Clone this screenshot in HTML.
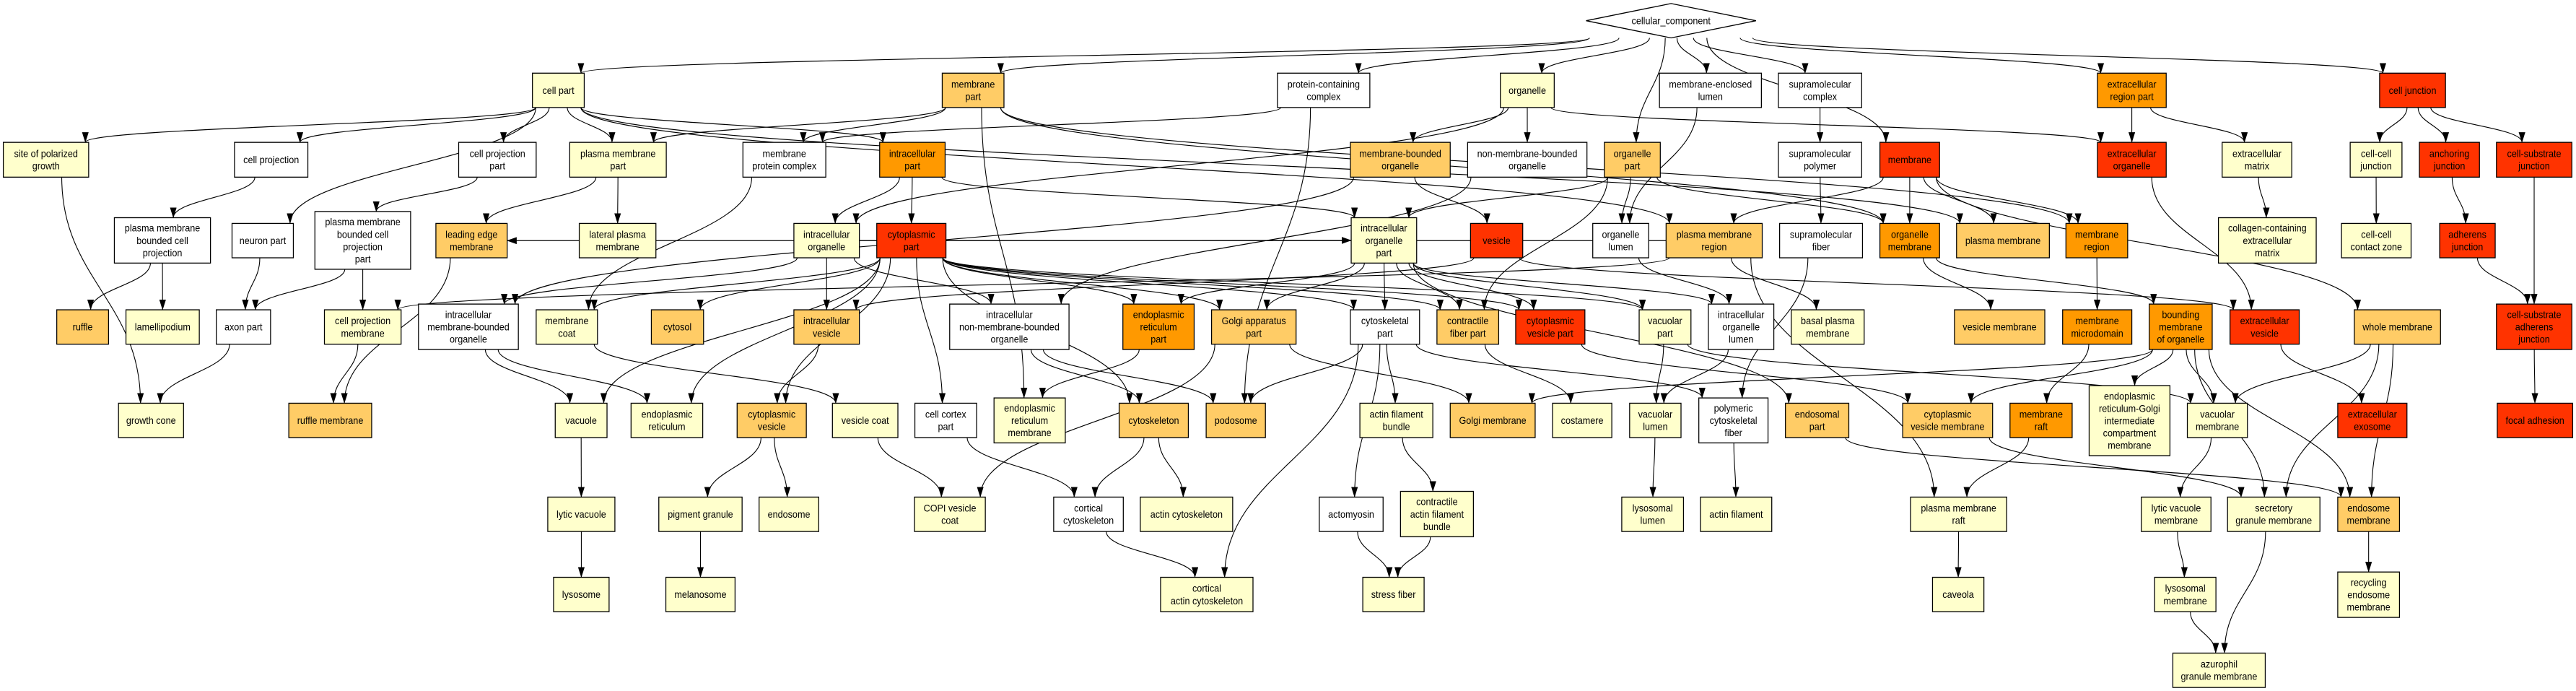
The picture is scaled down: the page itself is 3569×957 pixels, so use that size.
<!DOCTYPE html>
<html><head><meta charset="utf-8">
<style>
html,body{margin:0;padding:0;background:#fff;}
svg{display:block;}
text{font-family:"Liberation Sans",Arial,sans-serif;font-size:22px;text-anchor:middle;fill:#000;}
rect,polygon{stroke:#000;stroke-width:2.2;}
.Y rect{fill:#FFFFCC}.O rect{fill:#FFCC66}.R rect{fill:#FF9900}.D rect{fill:#FF3300}.W rect{fill:#FFFFFF}
#edges path{stroke:#000;stroke-width:1.9;fill:none}
</style></head>
<body>
<svg id="s" width="3569" height="957" viewBox="0 0 6217 1568" preserveAspectRatio="none" xmlns="http://www.w3.org/2000/svg">
<defs><marker id="ah" markerUnits="userSpaceOnUse" markerWidth="24" markerHeight="16" refX="23" refY="8" orient="auto"><path d="M0,0 L24,8 L0,16 z" fill="#000"/></marker></defs>
<g id="edges"></g>
<g id="nodes">
<g id="cc" class="W"><polygon points="3828,47 4033,8 4238,47 4033,86" fill="#fff"/><rect x="3900" y="20" width="266" height="54" style="display:none"/><text><tspan>cellular_component</tspan></text></g>

<g id="cellpart" class="Y"><rect x="1285" y="166" width="125" height="78"/><text><tspan>cell part</tspan></text></g>
<g id="spg" class="Y"><rect x="8" y="323" width="206" height="79"/><text><tspan>site of polarized</tspan><tspan>growth</tspan></text></g>
<g id="cproj" class="W"><rect x="566" y="323" width="177" height="79"/><text><tspan>cell projection</tspan></text></g>
<g id="cprojpart" class="W"><rect x="1107" y="323" width="187" height="79"/><text><tspan>cell projection</tspan><tspan>part</tspan></text></g>
<g id="pmpart" class="Y"><rect x="1375" y="323" width="233" height="79"/><text><tspan>plasma membrane</tspan><tspan>part</tspan></text></g>
<g id="pmbcp" class="W"><rect x="276" y="494" width="232" height="103"/><text><tspan>plasma membrane</tspan><tspan>bounded cell</tspan><tspan>projection</tspan></text></g>
<g id="neuron" class="W"><rect x="560" y="507" width="148" height="78"/><text><tspan>neuron part</tspan></text></g>
<g id="pmbcpp" class="W"><rect x="760" y="480" width="231" height="131"/><text><tspan>plasma membrane</tspan><tspan>bounded cell</tspan><tspan>projection</tspan><tspan>part</tspan></text></g>
<g id="lem" class="O"><rect x="1052" y="507" width="172" height="78"/><text><tspan>leading edge</tspan><tspan>membrane</tspan></text></g>
<g id="lpm" class="Y"><rect x="1398" y="507" width="185" height="78"/><text><tspan>lateral plasma</tspan><tspan>membrane</tspan></text></g>
<g id="ruffle" class="O"><rect x="137" y="703" width="125" height="78"/><text><tspan>ruffle</tspan></text></g>
<g id="lamel" class="Y"><rect x="304" y="703" width="177" height="78"/><text><tspan>lamellipodium</tspan></text></g>
<g id="axon" class="W"><rect x="522" y="703" width="131" height="78"/><text><tspan>axon part</tspan></text></g>
<g id="cpm" class="Y"><rect x="783" y="703" width="185" height="78"/><text><tspan>cell projection</tspan><tspan>membrane</tspan></text></g>
<g id="imbo" class="W"><rect x="1010" y="690" width="241" height="103"/><text><tspan>intracellular</tspan><tspan>membrane-bounded</tspan><tspan>organelle</tspan></text></g>
<g id="mcoat" class="Y"><rect x="1294" y="703" width="148" height="78"/><text><tspan>membrane</tspan><tspan>coat</tspan></text></g>
<g id="gcone" class="Y"><rect x="286" y="915" width="157" height="78"/><text><tspan>growth cone</tspan></text></g>
<g id="rmem" class="O"><rect x="697" y="915" width="200" height="78"/><text><tspan>ruffle membrane</tspan></text></g>
<g id="vacuole" class="Y"><rect x="1340" y="915" width="125" height="78"/><text><tspan>vacuole</tspan></text></g>
<g id="er" class="Y"><rect x="1523" y="915" width="173" height="78"/><text><tspan>endoplasmic</tspan><tspan>reticulum</tspan></text></g>
<g id="lvac" class="Y"><rect x="1322" y="1128" width="162" height="78"/><text><tspan>lytic vacuole</tspan></text></g>
<g id="lyso" class="Y"><rect x="1336" y="1310" width="134" height="78"/><text><tspan>lysosome</tspan></text></g>

<g id="mpart" class="O"><rect x="2274" y="166" width="149" height="78"/><text><tspan>membrane</tspan><tspan>part</tspan></text></g>
<g id="mpc" class="W"><rect x="1793" y="323" width="200" height="79"/><text><tspan>membrane</tspan><tspan>protein complex</tspan></text></g>
<g id="ipart" class="R"><rect x="2123" y="323" width="158" height="79"/><text><tspan>intracellular</tspan><tspan>part</tspan></text></g>
<g id="iorg" class="Y"><rect x="1916" y="507" width="158" height="78"/><text><tspan>intracellular</tspan><tspan>organelle</tspan></text></g>
<g id="cytpart" class="D"><rect x="2116" y="507" width="167" height="78"/><text><tspan>cytoplasmic</tspan><tspan>part</tspan></text></g>
<g id="cytosol" class="O"><rect x="1572" y="703" width="126" height="78"/><text><tspan>cytosol</tspan></text></g>
<g id="ives" class="O"><rect x="1916" y="703" width="158" height="78"/><text><tspan>intracellular</tspan><tspan>vesicle</tspan></text></g>
<g id="inmbo" class="W"><rect x="2292" y="690" width="288" height="103"/><text><tspan>intracellular</tspan><tspan>non-membrane-bounded</tspan><tspan>organelle</tspan></text></g>
<g id="erpart" class="R"><rect x="2710" y="690" width="172" height="103"/><text><tspan>endoplasmic</tspan><tspan>reticulum</tspan><tspan>part</tspan></text></g>
<g id="gap" class="O"><rect x="2924" y="703" width="204" height="78"/><text><tspan>Golgi apparatus</tspan><tspan>part</tspan></text></g>
<g id="cves" class="O"><rect x="1779" y="915" width="167" height="78"/><text><tspan>cytoplasmic</tspan><tspan>vesicle</tspan></text></g>
<g id="vcoat" class="Y"><rect x="2009" y="915" width="158" height="78"/><text><tspan>vesicle coat</tspan></text></g>
<g id="ccp" class="W"><rect x="2208" y="915" width="149" height="78"/><text><tspan>cell cortex</tspan><tspan>part</tspan></text></g>
<g id="erm" class="Y"><rect x="2399" y="903" width="172" height="102"/><text><tspan>endoplasmic</tspan><tspan>reticulum</tspan><tspan>membrane</tspan></text></g>
<g id="cysk" class="O"><rect x="2701" y="915" width="167" height="78"/><text><tspan>cytoskeleton</tspan></text></g>
<g id="podo" class="O"><rect x="2911" y="915" width="143" height="78"/><text><tspan>podosome</tspan></text></g>
<g id="pig" class="Y"><rect x="1590" y="1128" width="201" height="78"/><text><tspan>pigment granule</tspan></text></g>
<g id="endo" class="Y"><rect x="1832" y="1128" width="144" height="78"/><text><tspan>endosome</tspan></text></g>
<g id="copi" class="Y"><rect x="2207" y="1128" width="171" height="78"/><text><tspan>COPI vesicle</tspan><tspan>coat</tspan></text></g>
<g id="cortcy" class="W"><rect x="2543" y="1128" width="168" height="78"/><text><tspan>cortical</tspan><tspan>cytoskeleton</tspan></text></g>
<g id="actcy" class="Y"><rect x="2752" y="1128" width="223" height="78"/><text><tspan>actin cytoskeleton</tspan></text></g>
<g id="melan" class="Y"><rect x="1607" y="1310" width="167" height="78"/><text><tspan>melanosome</tspan></text></g>
<g id="cortact" class="Y"><rect x="2801" y="1310" width="223" height="78"/><text><tspan>cortical</tspan><tspan>actin cytoskeleton</tspan></text></g>
<g id="pcc" class="W"><rect x="3083" y="166" width="223" height="78"/><text><tspan>protein-containing</tspan><tspan>complex</tspan></text></g>

<g id="organelle" class="Y"><rect x="3621" y="166" width="130" height="78"/><text><tspan>organelle</tspan></text></g>
<g id="mel" class="W"><rect x="4005" y="166" width="246" height="78"/><text><tspan>membrane-enclosed</tspan><tspan>lumen</tspan></text></g>
<g id="supc" class="W"><rect x="4292" y="166" width="201" height="78"/><text><tspan>supramolecular</tspan><tspan>complex</tspan></text></g>
<g id="mbo" class="O"><rect x="3259" y="323" width="241" height="79"/><text><tspan>membrane-bounded</tspan><tspan>organelle</tspan></text></g>
<g id="nmbo" class="W"><rect x="3542" y="323" width="288" height="79"/><text><tspan>non-membrane-bounded</tspan><tspan>organelle</tspan></text></g>
<g id="orgpart" class="O"><rect x="3872" y="323" width="135" height="79"/><text><tspan>organelle</tspan><tspan>part</tspan></text></g>
<g id="supp" class="W"><rect x="4292" y="323" width="201" height="79"/><text><tspan>supramolecular</tspan><tspan>polymer</tspan></text></g>
<g id="membrane" class="D"><rect x="4537" y="323" width="144" height="79"/><text><tspan>membrane</tspan></text></g>
<g id="iop" class="Y"><rect x="3261" y="494" width="158" height="103"/><text><tspan>intracellular</tspan><tspan>organelle</tspan><tspan>part</tspan></text></g>
<g id="vesicle" class="D"><rect x="3549" y="507" width="126" height="78"/><text><tspan>vesicle</tspan></text></g>
<g id="olumen" class="W"><rect x="3844" y="507" width="135" height="78"/><text><tspan>organelle</tspan><tspan>lumen</tspan></text></g>
<g id="pmr" class="O"><rect x="4021" y="507" width="232" height="78"/><text><tspan>plasma membrane</tspan><tspan>region</tspan></text></g>
<g id="supf" class="W"><rect x="4295" y="507" width="200" height="78"/><text><tspan>supramolecular</tspan><tspan>fiber</tspan></text></g>
<g id="orgmem" class="R"><rect x="4537" y="507" width="144" height="78"/><text><tspan>organelle</tspan><tspan>membrane</tspan></text></g>
<g id="cyskp" class="W"><rect x="3259" y="703" width="167" height="78"/><text><tspan>cytoskeletal</tspan><tspan>part</tspan></text></g>
<g id="cfp" class="O"><rect x="3468" y="703" width="149" height="78"/><text><tspan>contractile</tspan><tspan>fiber part</tspan></text></g>
<g id="cvp" class="D"><rect x="3658" y="703" width="167" height="78"/><text><tspan>cytoplasmic</tspan><tspan>vesicle part</tspan></text></g>
<g id="vacp" class="Y"><rect x="3956" y="703" width="125" height="78"/><text><tspan>vacuolar</tspan><tspan>part</tspan></text></g>
<g id="iol" class="W"><rect x="4123" y="690" width="158" height="103"/><text><tspan>intracellular</tspan><tspan>organelle</tspan><tspan>lumen</tspan></text></g>
<g id="bpm" class="Y"><rect x="4323" y="703" width="176" height="78"/><text><tspan>basal plasma</tspan><tspan>membrane</tspan></text></g>
<g id="afb" class="Y"><rect x="3282" y="915" width="176" height="78"/><text><tspan>actin filament</tspan><tspan>bundle</tspan></text></g>
<g id="golgim" class="O"><rect x="3500" y="915" width="205" height="78"/><text><tspan>Golgi membrane</tspan></text></g>
<g id="costa" class="Y"><rect x="3747" y="915" width="143" height="78"/><text><tspan>costamere</tspan></text></g>
<g id="vlumen" class="Y"><rect x="3933" y="915" width="124" height="78"/><text><tspan>vacuolar</tspan><tspan>lumen</tspan></text></g>
<g id="pcf" class="W"><rect x="4100" y="903" width="167" height="102"/><text><tspan>polymeric</tspan><tspan>cytoskeletal</tspan><tspan>fiber</tspan></text></g>
<g id="endop" class="O"><rect x="4309" y="915" width="153" height="78"/><text><tspan>endosomal</tspan><tspan>part</tspan></text></g>
<g id="actomy" class="W"><rect x="3184" y="1128" width="154" height="78"/><text><tspan>actomyosin</tspan></text></g>
<g id="cafb" class="Y"><rect x="3380" y="1115" width="176" height="103"/><text><tspan>contractile</tspan><tspan>actin filament</tspan><tspan>bundle</tspan></text></g>
<g id="lyslumen" class="Y"><rect x="3914" y="1128" width="149" height="78"/><text><tspan>lysosomal</tspan><tspan>lumen</tspan></text></g>
<g id="actfil" class="Y"><rect x="4104" y="1128" width="172" height="78"/><text><tspan>actin filament</tspan></text></g>
<g id="stress" class="Y"><rect x="3289" y="1310" width="148" height="78"/><text><tspan>stress fiber</tspan></text></g>
<g id="cvm" class="O"><rect x="4592" y="915" width="217" height="78"/><text><tspan>cytoplasmic</tspan><tspan>vesicle membrane</tspan></text></g>
<g id="pmraft" class="Y"><rect x="4611" y="1128" width="232" height="78"/><text><tspan>plasma membrane</tspan><tspan>raft</tspan></text></g>
<g id="caveola" class="Y"><rect x="4664" y="1310" width="124" height="78"/><text><tspan>caveola</tspan></text></g>

<g id="erp" class="R"><rect x="5062" y="166" width="166" height="78"/><text><tspan>extracellular</tspan><tspan>region part</tspan></text></g>
<g id="cj" class="D"><rect x="5743" y="166" width="159" height="78"/><text><tspan>cell junction</tspan></text></g>
<g id="eorg" class="D"><rect x="5062" y="323" width="166" height="79"/><text><tspan>extracellular</tspan><tspan>organelle</tspan></text></g>
<g id="ecm" class="Y"><rect x="5363" y="323" width="168" height="79"/><text><tspan>extracellular</tspan><tspan>matrix</tspan></text></g>
<g id="ccj" class="Y"><rect x="5672" y="323" width="125" height="79"/><text><tspan>cell-cell</tspan><tspan>junction</tspan></text></g>
<g id="anch" class="D"><rect x="5839" y="323" width="145" height="79"/><text><tspan>anchoring</tspan><tspan>junction</tspan></text></g>
<g id="csj" class="D"><rect x="6025" y="323" width="182" height="79"/><text><tspan>cell-substrate</tspan><tspan>junction</tspan></text></g>
<g id="pm" class="O"><rect x="4722" y="507" width="224" height="78"/><text><tspan>plasma membrane</tspan></text></g>
<g id="mreg" class="R"><rect x="4986" y="507" width="149" height="78"/><text><tspan>membrane</tspan><tspan>region</tspan></text></g>
<g id="collagen" class="Y"><rect x="5354" y="494" width="236" height="103"/><text><tspan>collagen-containing</tspan><tspan>extracellular</tspan><tspan>matrix</tspan></text></g>
<g id="cccz" class="Y"><rect x="5651" y="507" width="168" height="78"/><text><tspan>cell-cell</tspan><tspan>contact zone</tspan></text></g>
<g id="adh" class="D"><rect x="5888" y="507" width="134" height="78"/><text><tspan>adherens</tspan><tspan>junction</tspan></text></g>
<g id="vesm" class="O"><rect x="4717" y="703" width="218" height="78"/><text><tspan>vesicle membrane</tspan></text></g>
<g id="mmd" class="R"><rect x="4978" y="703" width="167" height="78"/><text><tspan>membrane</tspan><tspan>microdomain</tspan></text></g>
<g id="bmo" class="R"><rect x="5187" y="690" width="152" height="103"/><text><tspan>bounding</tspan><tspan>membrane</tspan><tspan>of organelle</tspan></text></g>
<g id="ev" class="D"><rect x="5382" y="703" width="167" height="78"/><text><tspan>extracellular</tspan><tspan>vesicle</tspan></text></g>
<g id="wm" class="O"><rect x="5682" y="703" width="208" height="78"/><text><tspan>whole membrane</tspan></text></g>
<g id="csaj" class="D"><rect x="6025" y="690" width="182" height="103"/><text><tspan>cell-substrate</tspan><tspan>adherens</tspan><tspan>junction</tspan></text></g>
<g id="mraft" class="R"><rect x="4851" y="915" width="150" height="78"/><text><tspan>membrane</tspan><tspan>raft</tspan></text></g>
<g id="ergic" class="Y"><rect x="5042" y="875" width="195" height="159"/><text><tspan>endoplasmic</tspan><tspan>reticulum-Golgi</tspan><tspan>intermediate</tspan><tspan>compartment</tspan><tspan>membrane</tspan></text></g>
<g id="vacm" class="Y"><rect x="5279" y="915" width="145" height="78"/><text><tspan>vacuolar</tspan><tspan>membrane</tspan></text></g>
<g id="exo" class="D"><rect x="5642" y="915" width="167" height="78"/><text><tspan>extracellular</tspan><tspan>exosome</tspan></text></g>
<g id="fa" class="D"><rect x="6027" y="915" width="182" height="78"/><text><tspan>focal adhesion</tspan></text></g>
<g id="lvm" class="Y"><rect x="5168" y="1128" width="168" height="78"/><text><tspan>lytic vacuole</tspan><tspan>membrane</tspan></text></g>
<g id="sgm" class="Y"><rect x="5376" y="1128" width="223" height="78"/><text><tspan>secretory</tspan><tspan>granule membrane</tspan></text></g>
<g id="endom" class="O"><rect x="5642" y="1128" width="149" height="78"/><text><tspan>endosome</tspan><tspan>membrane</tspan></text></g>
<g id="lysm" class="Y"><rect x="5200" y="1310" width="148" height="78"/><text><tspan>lysosomal</tspan><tspan>membrane</tspan></text></g>
<g id="recyc" class="Y"><rect x="5642" y="1298" width="149" height="103"/><text><tspan>recycling</tspan><tspan>endosome</tspan><tspan>membrane</tspan></text></g>
<g id="azu" class="Y"><rect x="5244" y="1482" width="223" height="78"/><text><tspan>azurophil</tspan><tspan>granule membrane</tspan></text></g>
</g>
</svg>
<script>
(function(){
var NS="http://www.w3.org/2000/svg";
function box(id){var g=document.getElementById(id);if(id==="cc")return{x:3828,y:8,w:410,h:78};var r=g.querySelector("rect");return{x:+r.getAttribute("x"),y:+r.getAttribute("y"),w:+r.getAttribute("width"),h:+r.getAttribute("height")};}
var gs=document.querySelectorAll("#nodes > g");
for(var i=0;i<gs.length;i++){var g=gs[i];var b=box(g.id);var ts=g.querySelectorAll("tspan");var n=ts.length;var cx=b.x+b.w/2,cy=b.y+b.h/2;
for(var j=0;j<n;j++){ts[j].setAttribute("x",cx);ts[j].setAttribute("y",cy-(n-1)*14+8+j*28);}}
var E="cc>cellpart cc>mpart cc>pcc cc>organelle cc>mel cc>supc cc>membrane cc>erp cc>cj cc>orgpart "+
"cellpart>spg cellpart>cproj cellpart>neuron cellpart>cprojpart cellpart>pmpart cellpart>ipart cellpart>pmr cellpart>pm "+
"mpart>pmpart mpart>mpc mpart>erm mpart>orgmem mpart>mreg pcc>mpc pcc>podo "+
"organelle>mbo organelle>nmbo organelle>iorg organelle>eorg mel>olumen supc>supp supp>supf supf>pcf "+
"membrane>pmr membrane>orgmem membrane>pm membrane>wm membrane>mreg mbo>vesicle mbo>imbo nmbo>inmbo "+
"orgpart>olumen orgpart>iop orgpart>cfp orgpart>orgmem ipart>iorg ipart>cytpart ipart>iop "+
"iorg>ives iorg>inmbo iorg>imbo iorg>iop "+
"cytpart>cytosol cytpart>cves cytpart>ccp cytpart>erpart cytpart>gap cytpart>cyskp cytpart>cfp cytpart>cvp cytpart>vacp cytpart>mcoat cytpart>vacuole cytpart>er cytpart>cysk "+
"vesicle>ives vesicle>ev pmr>bpm pmr>pmraft pmr>lem pmr>cpm olumen>iol orgmem>vesm orgmem>bmo "+
"mreg>mmd mmd>mraft mraft>pmraft pmraft>caveola "+
"iop>cyskp iop>cfp iop>cvp iop>vacp iop>erpart iop>gap iop>endop iop>iol "+
"cyskp>afb cyskp>actomy cyskp>cortact cyskp>pcf cyskp>podo cfp>costa cvp>cvm gap>copi gap>golgim "+
"vacp>vlumen vacp>vacm iol>vlumen afb>cafb cafb>stress actomy>stress vlumen>lyslumen pcf>actfil endop>endom cvm>sgm "+
"bmo>ergic bmo>vacm bmo>sgm bmo>endom bmo>golgim bmo>cvm ev>exo wm>vacm wm>sgm wm>endom "+
"vacm>lvm lvm>lysm lysm>azu sgm>azu endom>recyc erp>eorg erp>ecm eorg>ev ecm>collagen "+
"cj>ccj cj>anch cj>csj ccj>cccz anch>adh adh>csaj csj>csaj csaj>fa "+
"cproj>pmbcp pmbcp>ruffle pmbcp>lamel neuron>axon cprojpart>pmbcpp pmbcpp>axon pmbcpp>cpm pmpart>lem pmpart>lpm lem>rmem cpm>rmem axon>gcone spg>gcone "+
"imbo>vacuole imbo>er vacuole>lvac lvac>lyso mcoat>vcoat vcoat>copi ives>cves cves>pig cves>endo pig>melan ccp>cortcy cortcy>cortact cysk>cortcy cysk>actcy inmbo>cysk inmbo>podo erpart>erm mpc>mcoat";
var eg=document.getElementById("edges");
function clip(b,dx,dy){var hw=b.w/2,hh=b.h/2;var t=Math.min(dx?hw/Math.abs(dx):1e9,dy?hh/Math.abs(dy):1e9);return[b.x+hw+dx*t,b.y+hh+dy*t];}
E.split(/\s+/).forEach(function(e){if(!e)return;var p=e.split(">");var a=box(p[0]),b=box(p[1]);
var d;
if(b.y>a.y+a.h+20){
 var sx=a.x+a.w/2+(b.x+b.w/2-(a.x+a.w/2))*0.15, sy=a.y+a.h;
 sx=Math.max(a.x+8,Math.min(a.x+a.w-8,sx));
 var tx=b.x+b.w/2-(b.x+b.w/2-(a.x+a.w/2))*0.1, ty=b.y;
 tx=Math.max(b.x+8,Math.min(b.x+b.w-8,tx));
 var dy=(ty-sy)*0.45;
 d="M"+sx+","+sy+" C"+sx+","+(sy+dy)+" "+tx+","+(ty-dy)+" "+tx+","+ty;
}else{
 var ax=a.x+a.w/2,ay=a.y+a.h/2,bx=b.x+b.w/2,by=b.y+b.h/2;var dx=bx-ax,dy2=by-ay;
 var s=clip(a,dx,dy2),t=clip(b,-dx,-dy2);
 d="M"+s[0]+","+s[1]+" L"+t[0]+","+t[1];
}
var l=document.createElementNS(NS,"path");l.setAttribute("d",d);l.setAttribute("marker-end","url(#ah)");eg.appendChild(l);});
})();
</script>
</body></html>
